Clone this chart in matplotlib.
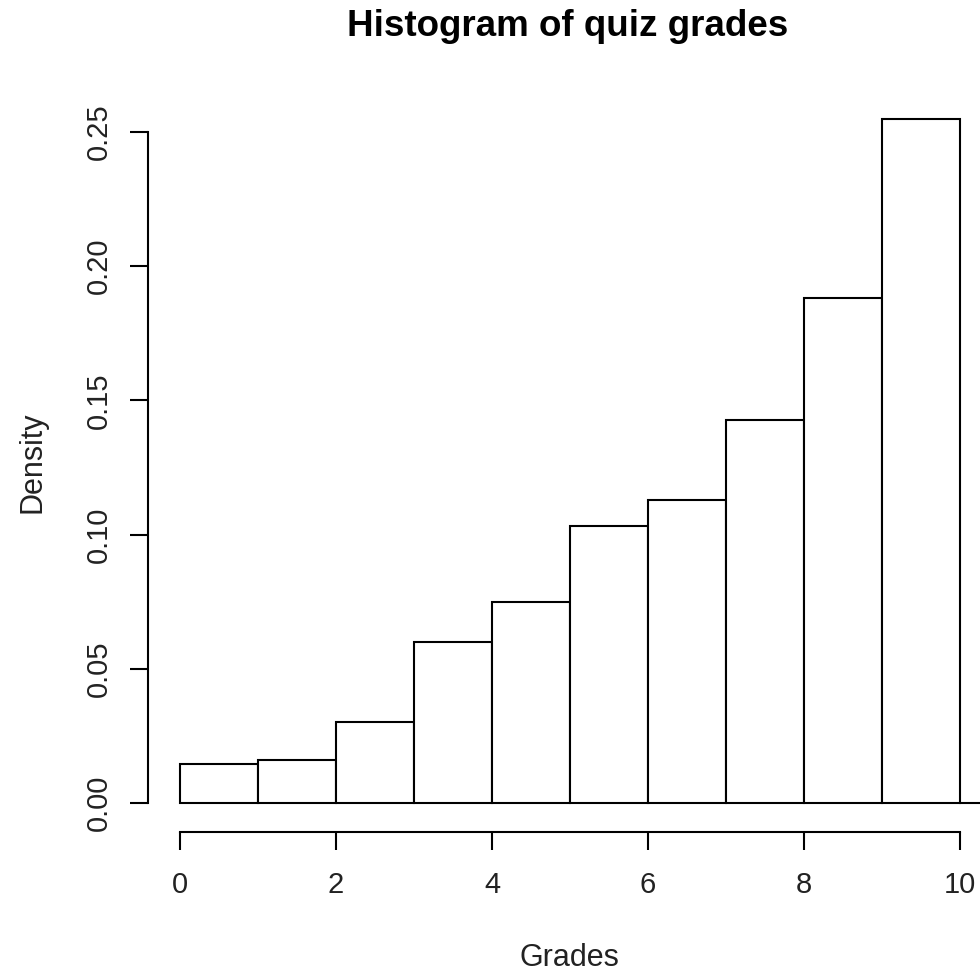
import matplotlib.pyplot as plt

plt.rcParams['font.family'] = ['Liberation Sans', 'DejaVu Sans']

# density per one-point grade bin
bin_edges = [0, 1, 2, 3, 4, 5, 6, 7, 8, 9, 10]
densities = [0.0145, 0.0160, 0.0302, 0.0600, 0.0749,
             0.1032, 0.1129, 0.1427, 0.1882, 0.2548]
x_ticks = [0, 2, 4, 6, 8, 10]
y_ticks = [0.00, 0.05, 0.10, 0.15, 0.20, 0.25]

W, H = 980, 972
fig = plt.figure(figsize=(W / 100, H / 100), dpi=100)
ax = fig.add_axes([148 / W, 1 - 832 / H, 1 - 148 / W, (832 - 100) / H])

lefts = bin_edges[:-1]
widths = [b - a for a, b in zip(bin_edges[:-1], bin_edges[1:])]
ax.bar(lefts, densities, width=widths, align='edge',
       facecolor='white', edgecolor='black', linewidth=1.5)

xmin, xmax = -32 / 78, 10 + 20 / 78
ax.plot([bin_edges[-1], xmax], [0, 0], color='black', lw=1.5, clip_on=False)
ax.set_xlim(xmin, xmax)
ax.set_ylim(-29 / 2684, 703 / 2684)

# detached R-style axes
for side in ['top', 'right']:
    ax.spines[side].set_visible(False)
ax.spines['left'].set_bounds(0, 0.25)
ax.spines['bottom'].set_bounds(0, 10)
for side in ['left', 'bottom']:
    ax.spines[side].set_linewidth(1.5)

text_col = '#222222'
ax.set_xticks(x_ticks)
ax.set_xticklabels([str(t) for t in x_ticks])
ax.set_yticks(y_ticks)
ax.set_yticklabels(['%.2f' % t for t in y_ticks], rotation=90, va='center')
ax.tick_params(axis='both', direction='out', length=13, width=1.5,
               labelsize=21, color='black', labelcolor=text_col)
ax.tick_params(axis='x', pad=15)
ax.tick_params(axis='y', pad=12)

fig.text(568 / W, 1 - 27 / H, 'Histogram of quiz grades', ha='center',
         va='center', fontsize=26.5, fontweight='bold')
fig.text(569 / W, 1 - 958 / H, 'Grades', ha='center', va='center',
         fontsize=22, color=text_col)
fig.text(32 / W, 1 - 462 / H, 'Density', ha='center', va='center',
         fontsize=22, rotation=90, color=text_col)

fig.savefig('out.png', dpi=100)
